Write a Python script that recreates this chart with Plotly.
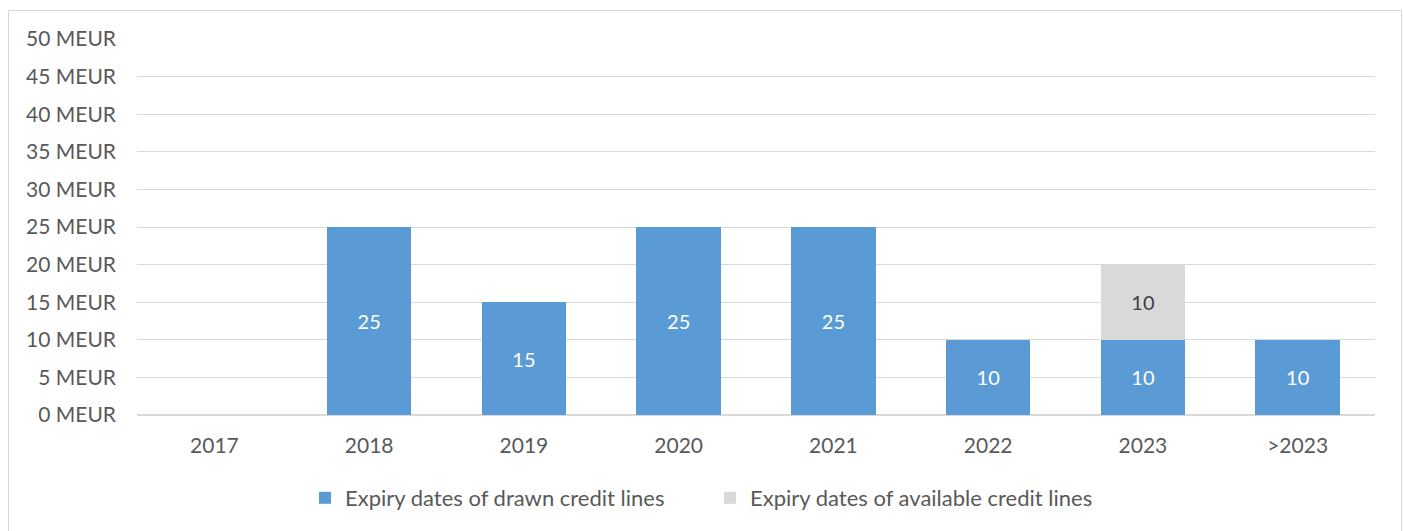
import plotly.graph_objects as go

categories = ["2017", "2018", "2019", "2020", "2021", "2022", "2023", ">2023"]
drawn = [None, 25, 15, 25, 25, 10, 10, 10]
available = [None, None, None, None, None, None, 10, None]
y_ticks = [0, 5, 10, 15, 20, 25, 30, 35, 40, 45, 50]
y_tick_labels = [f"{v} MEUR" for v in y_ticks]

W, H = 1403, 531
L, R, T, B = 137, 28, 39, 116
pw, ph = W - L - R, H - T - B

def px_x(p):
    return (p - L) / pw

def px_y(p):
    return (H - B - p) / ph

FONT = "Lato"
FS = 21
fig = go.Figure()
fig.add_trace(go.Bar(
    x=categories, y=drawn, name="Expiry dates of drawn credit lines",
    marker=dict(color="#5B9BD5", line=dict(width=0)),
    text=[str(v) if v else "" for v in drawn], textposition="inside",
    insidetextanchor="middle", textfont=dict(color="white", size=20, family=FONT),
))
fig.add_trace(go.Bar(
    x=categories, y=available, name="Expiry dates of available credit lines",
    marker=dict(color="#D9D9D9", line=dict(width=0)),
    text=[str(v) if v else "" for v in available], textposition="inside",
    insidetextanchor="middle", textfont=dict(color="#404040", size=20, family=FONT),
))
fig.update_layout(
    width=W, height=H, barmode="stack", bargap=0.455,
    margin=dict(l=L, r=R, t=T, b=B, autoexpand=False),
    paper_bgcolor="white", plot_bgcolor="white",
    font=dict(family=FONT, size=FS, color="#595959"),
    uniformtext=dict(minsize=10, mode="show"),
    xaxis=dict(showgrid=False, zeroline=False, showline=False, ticks="",
               tickfont=dict(size=FS, color="#595959"), ticklabelstandoff=16),
    yaxis=dict(range=[0, 50], tickvals=y_ticks, ticktext=y_tick_labels,
               showgrid=True, gridcolor="#D9D9D9", gridwidth=1.3,
               zeroline=True, zerolinecolor="#D9D9D9", zerolinewidth=1.8,
               showline=False, ticks="", ticklabelstandoff=20,
               tickfont=dict(size=FS, color="#595959")),
    legend=dict(orientation="h", x=px_x(710), xanchor="center",
                y=px_y(498), yanchor="middle", font=dict(size=22, color="#595959"),
                itemwidth=30, entrywidth=360, entrywidthmode="pixels",
                traceorder="normal", itemclick=False),
    showlegend=True,
    shapes=[dict(type="rect", xref="paper", yref="paper",
                 x0=px_x(8.5), x1=px_x(1401.5), y0=px_y(540), y1=px_y(10.5),
                 line=dict(color="#D9D9D9", width=1), layer="below")],
)
fig.write_html("out.html")
